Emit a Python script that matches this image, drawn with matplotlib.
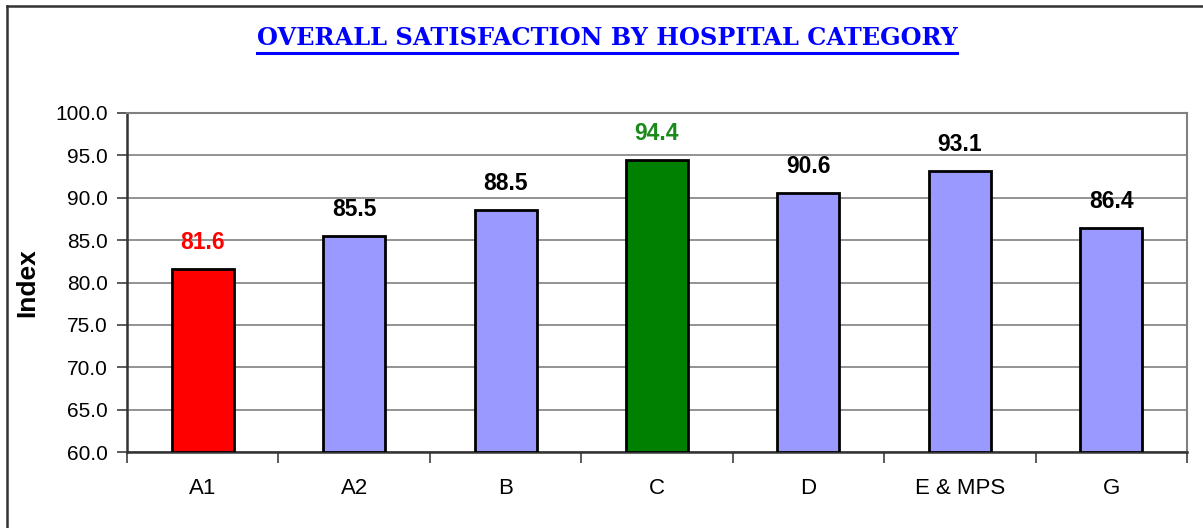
import matplotlib
matplotlib.use("Agg")
import matplotlib.pyplot as plt
from matplotlib.lines import Line2D

categories = ["A1", "A2", "B", "C", "D", "E & MPS", "G"]
values = [81.6, 85.5, 88.5, 94.4, 90.6, 93.1, 86.4]
bar_colors = ["#FF0000", "#9999FF", "#9999FF", "#008000", "#9999FF", "#9999FF", "#9999FF"]
label_colors = ["#FF0000", "black", "black", "#1A8A1A", "black", "black", "black"]
yticks = [60, 65, 70, 75, 80, 85, 90, 95, 100]

W, H = 1203, 528
fig = plt.figure(figsize=(W / 100, H / 100), dpi=100)
plt.rcParams['font.family'] = ['Liberation Sans', 'DejaVu Sans']

ax = fig.add_axes([127 / W, (H - 452) / H, 1060 / W, (452 - 113) / H])
x = list(range(len(categories)))
ax.bar(x, [v - 60 for v in values], bottom=60, width=0.41, color=bar_colors,
       edgecolor="black", linewidth=2, zorder=3)

for xi, v, c in zip(x, values, label_colors):
    ax.annotate("%.1f" % v, (xi, v), xytext=(0, 14.5), textcoords="offset points",
                ha="center", va="baseline", fontsize=16.5, fontweight="bold", color=c)

ax.set_xlim(-0.5, len(categories) - 0.5)
ax.set_ylim(60, 100)
ax.set_yticks(yticks)
ax.set_yticklabels(["%.1f" % t for t in yticks], fontsize=15)
ax.yaxis.grid(True, color="#808080", linewidth=1.2, zorder=0)
ax.tick_params(axis="y", direction="out", length=7, width=1.2, color="#404040", pad=7)

ax.set_xticks(x)
ax.set_xticklabels(categories, fontsize=16)
ax.set_xticks([i - 0.5 for i in range(len(categories) + 1)], minor=True)
ax.tick_params(axis="x", which="major", length=0, pad=19)
ax.tick_params(axis="x", which="minor", direction="out", length=8, width=1.2, color="#404040")

for s in ["left", "bottom"]:
    ax.spines[s].set_color("#333333")
    ax.spines[s].set_linewidth(1.8)
for s in ["top", "right"]:
    ax.spines[s].set_color("#808080")
    ax.spines[s].set_linewidth(1.5)

ax.set_ylabel("Index", fontsize=19, fontweight="bold")
ax.yaxis.set_label_coords(-0.083, 0.5)

title = fig.text(607 / W, 1 - 45 / H, "OVERALL SATISFACTION BY HOSPITAL CATEGORY",
                 ha="center", va="baseline", fontsize=17, fontweight="bold",
                 color="#0000FF", family="DejaVu Serif")
fig.canvas.draw()
bb = title.get_window_extent()
title.set_fontsize(17 * 700 / bb.width)
fig.canvas.draw()
bb = title.get_window_extent()
fig.add_artist(Line2D([bb.x0 / W, bb.x1 / W], [1 - 53 / H, 1 - 53 / H],
                      color="#0000FF", linewidth=2.2, transform=fig.transFigure))

# outer frame (only left and top visible)
fig.add_artist(Line2D([7 / W, 7 / W], [0, 1 - 6 / H], color="#333333", linewidth=1.8,
                      transform=fig.transFigure))
fig.add_artist(Line2D([7 / W, 1], [1 - 6 / H, 1 - 6 / H], color="#333333", linewidth=1.8,
                      transform=fig.transFigure))

fig.savefig("out.png", dpi=100)
